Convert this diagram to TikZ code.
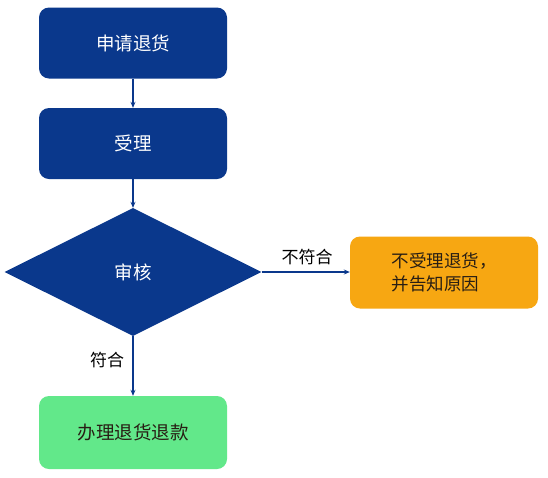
\documentclass[tikz,border=0pt]{standalone}
\usepackage{fontspec}
\newfontfamily\cjk{Noto Sans CJK SC}
\usetikzlibrary{shapes.geometric,arrows.meta}
\definecolor{navy}{RGB}{10,56,140}
\definecolor{orangebox}{RGB}{247,167,18}
\definecolor{greenbox}{RGB}{98,232,138}
\definecolor{darktext}{RGB}{40,30,20}
\begin{document}
\begin{tikzpicture}[x=1pt,y=-1pt,
  bluebox/.style={draw=none,fill=navy,rounded corners=10pt,minimum width=188pt,minimum height=71pt,text=white,font=\cjk\fontsize{18.5}{22}\selectfont,inner sep=0pt},
  orbox/.style={draw=none,fill=orangebox,rounded corners=10pt,minimum width=188pt,minimum height=72pt,text=darktext,font=\cjk\fontsize{17.5}{23}\selectfont,align=left,inner sep=0pt},
  grbox/.style={draw=none,fill=greenbox,rounded corners=10pt,minimum width=188pt,minimum height=73pt,text=darktext,font=\cjk\fontsize{18.5}{22}\selectfont,inner sep=0pt},
  decision/.style={diamond,draw=none,fill=navy,minimum width=257pt,minimum height=128pt,inner sep=0pt,text=white,font=\cjk\fontsize{18.5}{22}\selectfont},
  conn/.style={draw=navy,line width=1.4pt,-{Stealth[length=6pt,width=5pt]}},
  lbl/.style={font=\cjk\fontsize{17}{20}\selectfont,text=black,inner sep=0pt}
]
\useasboundingbox (0,0) rectangle (548,477);
\fill[white] (0,0) rectangle (548,477);
\node[bluebox] (apply) at (133,43) {申请退货};
\node[bluebox] (accept) at (133,143.5) {受理};
\node[decision] (review) at (133,272) {审核};
\node[orbox] (reject) at (444,272.5) {不受理退货，\\并告知原因};
\node[grbox] (refund) at (133,432.5) {办理退货退款};
\draw[conn] (apply.south) -- (accept.north);
\draw[conn] (accept.south) -- (review.north);
\draw[conn] (review.east) -- (review.east -| reject.west);
\draw[conn] (review.south) -- (review.south |- refund.north);
\node[lbl] (lno) at (307,257) {不符合};
\node[lbl] (lyes) at (107,360) {符合};
\end{tikzpicture}
\end{document}
